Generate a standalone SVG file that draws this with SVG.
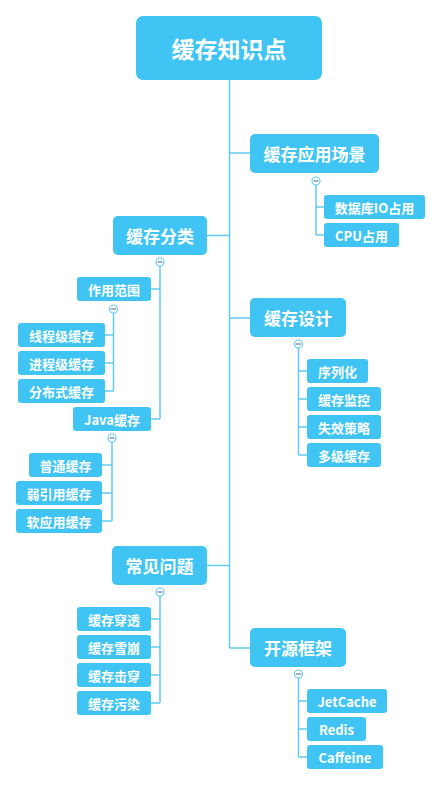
<svg xmlns="http://www.w3.org/2000/svg" width="442" height="786" viewBox="0 0 442 786">
<style>
.box{fill:#40C4F4}
.t{fill:#fff;font-family:"Noto Sans CJK SC","Microsoft YaHei",sans-serif;font-weight:bold;text-anchor:middle;dominant-baseline:central}
.root{font-size:23px}
.br{font-size:17px}
.ch{font-size:13px}
.ln{fill:none;stroke:#62CBF2;stroke-width:1.5}
.cc{fill:#fff;stroke:#62CBF2;stroke-width:1.2}
.cm{stroke:#6A7A9A;stroke-width:1.2}
</style>
<rect width="442" height="786" fill="#fff"/>
<g id="connectors">
<path class="ln" d="M229.5,80 V648"/>
<path class="ln" d="M229.5,153 H250 M229.5,318 H250 M229.5,648 H250 M207,235.5 H229.5 M207,565.5 H229.5"/>
<path class="ln" d="M316,185 V235 M316,207 H324 M316,235 H324"/>
<path class="ln" d="M160,266 V419 M151,289 H160 M151,419 H160"/>
<path class="ln" d="M113.5,313 V391 M105,335 H113.5 M105,363 H113.5 M105,391 H113.5"/>
<path class="ln" d="M112,442 V521 M102,465 H112 M102,493 H112 M102,521 H112"/>
<path class="ln" d="M298.5,348 V455 M298.5,371 H307 M298.5,399 H307 M298.5,427 H307 M298.5,455 H307"/>
<path class="ln" d="M160,596 V703 M151,619 H160 M151,647 H160 M151,675 H160 M151,703 H160"/>
<path class="ln" d="M298.5,678 V757 M298.5,701 H307 M298.5,729 H307 M298.5,757 H307"/>
</g>
<g id="collapse">
<g><circle class="cc" cx="316" cy="181" r="4"/><path class="cm" d="M313.5,181 H318.5"/></g>
<g><circle class="cc" cx="160" cy="262" r="4"/><path class="cm" d="M157.5,262 H162.5"/></g>
<g><circle class="cc" cx="113.5" cy="309" r="4"/><path class="cm" d="M111,309 H116"/></g>
<g><circle class="cc" cx="112" cy="438" r="4"/><path class="cm" d="M109.5,438 H114.5"/></g>
<g><circle class="cc" cx="298.5" cy="344" r="4"/><path class="cm" d="M296,344 H301"/></g>
<g><circle class="cc" cx="160" cy="592" r="4"/><path class="cm" d="M157.5,592 H162.5"/></g>
<g><circle class="cc" cx="298.5" cy="674" r="4"/><path class="cm" d="M296,674 H301"/></g>
</g>
<g id="root"><rect class="box" x="136" y="16" width="186" height="64" rx="7"/><text class="t root" x="229" y="48">缓存知识点</text></g>
<g id="n-yycj"><rect class="box" x="250" y="134" width="129" height="39" rx="5"/><text class="t br" x="314.5" y="153.5">缓存应用场景</text></g>
<g id="n-db"><rect class="box" x="324" y="195" width="101" height="24" rx="3"/><text class="t ch" x="374.5" y="207">数据库IO占用</text></g>
<g id="n-cpu"><rect class="box" x="324" y="223" width="75" height="24" rx="3"/><text class="t ch" x="361.5" y="235">CPU占用</text></g>
<g id="n-fl"><rect class="box" x="113" y="216" width="94" height="39" rx="5"/><text class="t br" x="160" y="235.5">缓存分类</text></g>
<g id="n-zyfw"><rect class="box" x="77" y="277" width="74" height="24" rx="3"/><text class="t ch" x="114" y="289">作用范围</text></g>
<g id="n-xcj"><rect class="box" x="18" y="323" width="87" height="24" rx="3"/><text class="t ch" x="61.5" y="335">线程级缓存</text></g>
<g id="n-jcj"><rect class="box" x="18" y="351" width="87" height="24" rx="3"/><text class="t ch" x="61.5" y="363">进程级缓存</text></g>
<g id="n-fbs"><rect class="box" x="18" y="379" width="87" height="24" rx="3"/><text class="t ch" x="61.5" y="391">分布式缓存</text></g>
<g id="n-java"><rect class="box" x="73" y="407" width="78" height="24" rx="3"/><text class="t ch" x="112" y="419">Java缓存</text></g>
<g id="n-pt"><rect class="box" x="29" y="453" width="73" height="24" rx="3"/><text class="t ch" x="65.5" y="465">普通缓存</text></g>
<g id="n-ryy"><rect class="box" x="16" y="481" width="86" height="24" rx="3"/><text class="t ch" x="59" y="493">弱引用缓存</text></g>
<g id="n-ryy2"><rect class="box" x="16" y="509" width="86" height="24" rx="3"/><text class="t ch" x="59" y="521">软应用缓存</text></g>
<g id="n-sj"><rect class="box" x="250" y="298" width="96" height="39" rx="5"/><text class="t br" x="298" y="317.5">缓存设计</text></g>
<g id="n-xlh"><rect class="box" x="307" y="359" width="61" height="24" rx="3"/><text class="t ch" x="337.5" y="371">序列化</text></g>
<g id="n-jk"><rect class="box" x="307" y="387" width="74" height="24" rx="3"/><text class="t ch" x="344" y="399">缓存监控</text></g>
<g id="n-sx"><rect class="box" x="307" y="415" width="74" height="24" rx="3"/><text class="t ch" x="344" y="427">失效策略</text></g>
<g id="n-dj"><rect class="box" x="307" y="443" width="74" height="24" rx="3"/><text class="t ch" x="344" y="455">多级缓存</text></g>
<g id="n-wt"><rect class="box" x="112" y="546" width="95" height="39" rx="5"/><text class="t br" x="159.5" y="565.5">常见问题</text></g>
<g id="n-ct"><rect class="box" x="77" y="607" width="74" height="24" rx="3"/><text class="t ch" x="114" y="619">缓存穿透</text></g>
<g id="n-xb"><rect class="box" x="77" y="635" width="74" height="24" rx="3"/><text class="t ch" x="114" y="647">缓存雪崩</text></g>
<g id="n-jc"><rect class="box" x="77" y="663" width="74" height="24" rx="3"/><text class="t ch" x="114" y="675">缓存击穿</text></g>
<g id="n-wr"><rect class="box" x="77" y="691" width="74" height="24" rx="3"/><text class="t ch" x="114" y="703">缓存污染</text></g>
<g id="n-ky"><rect class="box" x="250" y="628" width="96" height="39" rx="5"/><text class="t br" x="298" y="647.5">开源框架</text></g>
<g id="n-jet"><rect class="box" x="307" y="689" width="80" height="24" rx="3"/><text class="t ch" x="347" y="701">JetCache</text></g>
<g id="n-redis"><rect class="box" x="307" y="717" width="59" height="24" rx="3"/><text class="t ch" x="336.5" y="729">Redis</text></g>
<g id="n-caf"><rect class="box" x="307" y="745" width="76" height="24" rx="3"/><text class="t ch" x="345" y="757">Caffeine</text></g>
</svg>
